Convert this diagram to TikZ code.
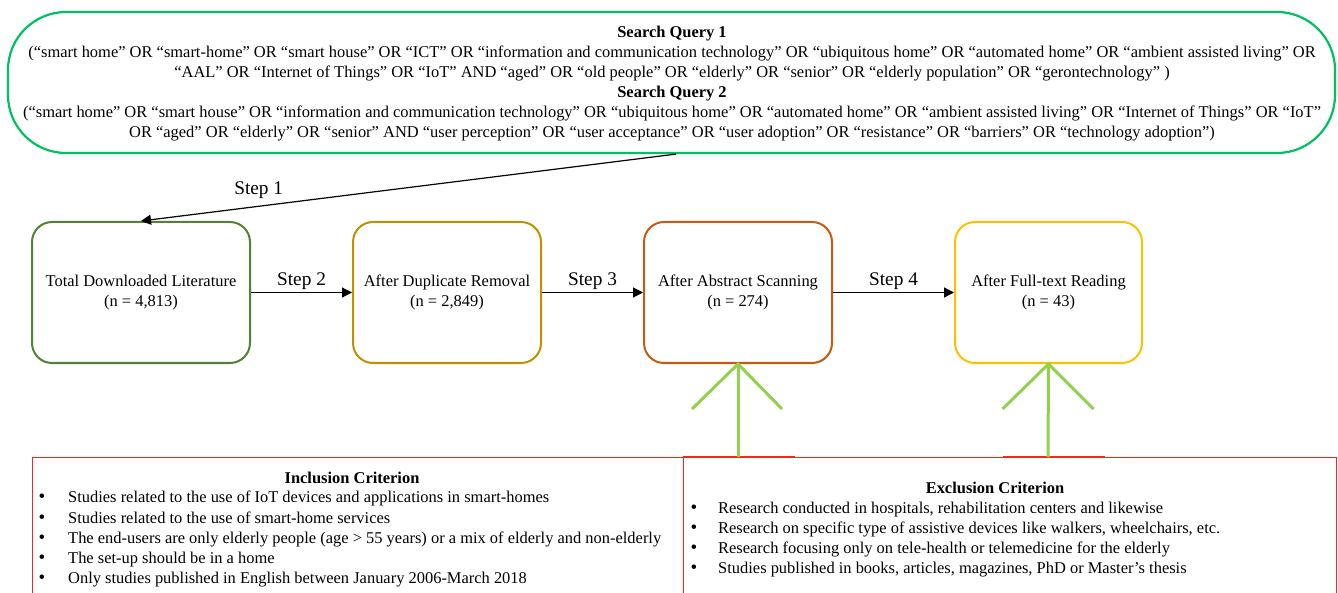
\documentclass[tikz,border=0pt]{standalone}
\usepackage{fontspec}
\setmainfont{Liberation Serif}
\usetikzlibrary{arrows.meta,calc}
\definecolor{qgreen}{HTML}{00C060}
\definecolor{cone}{HTML}{548235}
\definecolor{ctwo}{HTML}{BF9000}
\definecolor{cthree}{HTML}{C55A11}
\definecolor{cfour}{HTML}{FFC000}
\definecolor{lgreen}{HTML}{92D050}
\definecolor{cred}{HTML}{FF2020}
\newcommand{\bodyfont}{\fontsize{16.45}{20}\selectfont}
\newcommand{\stepfont}{\fontsize{19.3}{20}\selectfont}
\newcommand{\bulfont}{\fontsize{19}{20}\selectfont}
\begin{document}
\begin{tikzpicture}[x=1pt,y=-1pt,
  txt/.style={font=\bodyfont, inner sep=0pt, anchor=base},
  ltxt/.style={font=\bodyfont, inner sep=0pt, anchor=base west},
  bul/.style={font=\bulfont, inner sep=0pt, anchor=base},
  stagebox/.style={draw, line width=2pt, rounded corners=20pt, minimum height=141pt,
    align=center, font=\bodyfont, inner sep=0pt},
  blk/.style={draw=black, line width=1.2pt, -{Triangle[length=10pt,width=10pt]}},
  steplbl/.style={font=\stepfont, inner sep=2pt},
  garrow/.style={draw=lgreen, line width=3pt},
  critbox/.style={draw=cred, line width=0.8pt, minimum height=141pt, inner sep=0pt},
]
\useasboundingbox (0,0) rectangle (1338,593);

% search query box
\node[draw=qgreen, line width=2.2pt, rounded corners=58pt, minimum width=1327pt,
  minimum height=141pt, inner sep=0pt] (q) at (671.5,82.5) {};
\node[txt, font=\bodyfont\bfseries] (q1t) at (672,38) {Search Query 1};
\node[txt] (q1a) at (672,57.5) {(“smart home” OR “smart-home” OR “smart house” OR “ICT” OR “information and communication technology” OR “ubiquitous home” OR “automated home” OR “ambient assisted living” OR};
\node[txt] (q1b) at (672,77.5) {“AAL” OR “Internet of Things” OR “IoT” AND “aged” OR “old people” OR “elderly” OR “senior” OR “elderly population” OR “gerontechnology” )};
\node[txt, font=\bodyfont\bfseries] (q2t) at (672,97.5) {Search Query 2};
\node[txt] (q2a) at (672,117.5) {(“smart home” OR “smart house” OR “information and communication technology” OR “ubiquitous home” OR “automated home” OR “ambient assisted living” OR “Internet of Things” OR “IoT”};
\node[txt] (q2b) at (672,137.5) {OR “aged” OR “elderly” OR “senior” AND “user perception” OR “user acceptance” OR “user adoption” OR “resistance” OR “barriers” OR “technology adoption”)};

% stage boxes
\node[stagebox, draw=cone, minimum width=218pt] (b1) at (141,292.5) {Total Downloaded Literature\\(n = 4,813)};
\node[stagebox, draw=ctwo, minimum width=188pt] (b2) at (447,292.5) {After Duplicate Removal\\(n = 2,849)};
\node[stagebox, draw=cthree, minimum width=188pt] (b3) at (738,292.5) {After Abstract Scanning\\(n = 274)};
\node[stagebox, draw=cfour, minimum width=187pt] (b4) at (1048.5,292.5) {After Full-text Reading\\(n = 43)};

% connectors
\draw[blk] (q.south) ++(4.5,0) coordinate (qs) -- node[steplbl, pos=0.78, anchor=south, yshift=5pt] {Step 1} (b1.north);
\draw[blk] (b1.east) -- node[steplbl, above] {Step 2} (b2.west);
\draw[blk] (b2.east) -- node[steplbl, above] {Step 3} (b3.west);
\draw[blk] (b3.east) -- node[steplbl, above] {Step 4} (b4.west);

% criteria boxes
\node[critbox, minimum width=651pt] (inc) at (357.5,527.5) {};
\node[critbox, minimum width=653pt] (exc) at (1009.5,527.5) {};

% green arrows
\coordinate (g1) at (738,457);
\coordinate (g2) at (1048,457);
\draw[cred, line width=2pt] (683,457) -- (795,457);
\draw[cred, line width=2pt] (1003,457) -- (1105,457);
\draw[garrow] (g1) -- (b3.south);
\draw[garrow] ($(b3.south)+(-46,45)$) -- (b3.south) -- ($(b3.south)+(44,45)$);
\draw[garrow] (g2) -- (b4.south);
\draw[garrow] ($(b4.south)+(-46,45)$) -- (b4.south) -- ($(b4.south)+(45,45)$);

% inclusion text
\node[txt, font=\bodyfont\bfseries] (it) at (352,483) {Inclusion Criterion};
\foreach \y/\t [count=\i] in {
  502.5/{Studies related to the use of IoT devices and applications in smart-homes},
  523/{Studies related to the use of smart-home services},
  543/{The end-users are only elderly people (age > 55 years) or a mix of elderly and non-elderly},
  563/{The set-up should be in a home},
  583/{Only studies published in English between January 2006-March 2018}} {
  \node[bul] (ib\i) at (42,\y) {•};
  \node[ltxt] (il\i) at (68,\y) {\t};
}

% exclusion text
\node[txt, font=\bodyfont\bfseries] (et) at (995,493) {Exclusion Criterion};
\foreach \y/\t [count=\i] in {
  513/{Research conducted in hospitals, rehabilitation centers and likewise},
  533/{Research on specific type of assistive devices like walkers, wheelchairs, etc.},
  553/{Research focusing only on tele-health or telemedicine for the elderly},
  573/{Studies published in books, articles, magazines, PhD or Master’s thesis}} {
  \node[bul] (eb\i) at (694,\y) {•};
  \node[ltxt] (el\i) at (718,\y) {\t};
}
\end{tikzpicture}
\end{document}
